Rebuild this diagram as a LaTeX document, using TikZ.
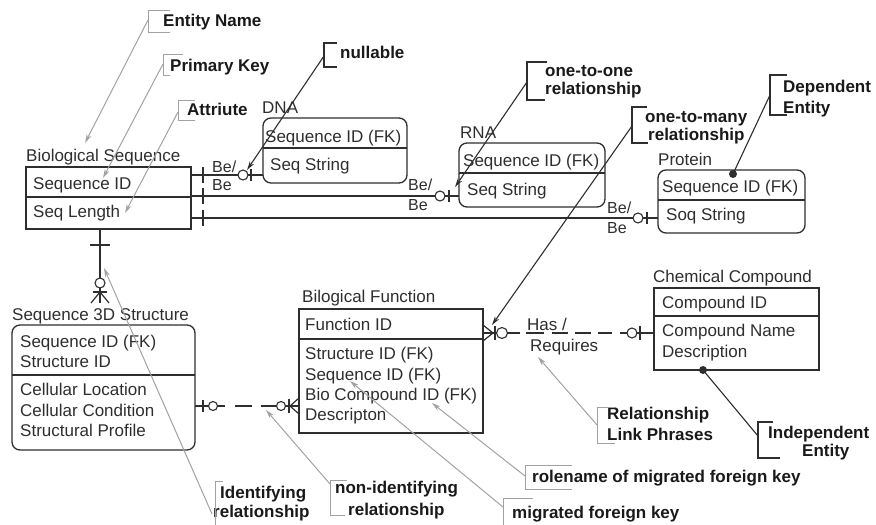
\documentclass[tikz,border=0pt]{standalone}
\usepackage{fontspec}
\setmainfont{Liberation Sans}
\usetikzlibrary{arrows.meta}
\definecolor{ink}{HTML}{2E2E2E}
\definecolor{callgray}{HTML}{A2A2A2}
\begin{document}
\begin{tikzpicture}[x=1pt,y=-1pt,
  ebox/.style={draw=ink, line width=1.3pt, inner sep=0pt, outer sep=0pt, anchor=north west},
  dep/.style={ebox, rounded corners=8pt},
  ebline/.style={draw=ink, line width=1.3pt},
  etext/.style={anchor=base west, inner sep=0pt, text=ink, font=\fontsize{17}{19}\selectfont},
  ctext/.style={anchor=base west, inner sep=0pt, text=black!90, font=\fontsize{17}{19}\selectfont\bfseries},
  rel/.style={draw=ink, line width=1.2pt},
  hoop/.style={draw=ink, line width=1.1pt, fill=white},
  gline/.style={draw=callgray, line width=1pt, -{Stealth[length=9pt,width=5pt]}},
  bline/.style={draw=ink, line width=1.1pt, -{Stealth[length=9pt,width=5pt]}},
  gbrk/.style={draw=callgray, line width=1pt},
  bbrk/.style={draw=ink, line width=1.6pt},
]
\useasboundingbox (0,0) rectangle (876,525);

% ---------- entity boxes ----------
\node[ebox, minimum width=165pt, minimum height=62pt]  (bs)   at (26,167)  {};
\node[dep,  minimum width=144pt, minimum height=65pt]  (dna)  at (263,118) {};
\node[dep,  minimum width=146pt, minimum height=64pt]  (rna)  at (459,143) {};
\node[dep,  minimum width=147pt, minimum height=63pt]  (prot) at (658,170) {};
\node[dep,  minimum width=183pt, minimum height=125pt] (s3d)  at (12,325)  {};
\node[ebox, minimum width=184pt, minimum height=124pt] (bf)   at (299,309) {};
\node[ebox, minimum width=165pt, minimum height=82pt]  (cc)   at (654,288) {};

% key / attribute dividers
\foreach \n/\y in {bs/197, dna/148, rna/173, prot/200, s3d/375, bf/339, cc/316}
  \draw[ebline] (\n.west |- 0,\y) -- (\n.east |- 0,\y);

% ---------- entity names and attributes ----------
\node[etext] (bsT)  at (26,161)  {Biological Sequence};
\node[etext] (bsA)  at (33,189)  {Sequence ID};
\node[etext] (bsB)  at (33,217)  {Seq Length};

\node[etext] (dnaT) at (262,113) {DNA};
\node[etext] (dnaA) at (265,142) {Sequence ID (FK)};
\node[etext] (dnaB) at (270,170) {Seq String};

\node[etext] (rnaT) at (460,138) {RNA};
\node[etext] (rnaA) at (463,166) {Sequence ID (FK)};
\node[etext] (rnaB) at (467,195) {Seq String};

\node[etext] (prT)  at (658,165) {Protein};
\node[etext] (prA)  at (662,192) {Sequence ID (FK)};
\node[etext] (prB)  at (666,220) {Soq String};

\node[etext] (s3T)  at (12,320)  {Sequence 3D Structure};
\node[etext] (s3A)  at (20,347)  {Sequence ID (FK)};
\node[etext] (s3B)  at (20,367)  {Structure ID};
\node[etext] (s3C)  at (20,395)  {Cellular Location};
\node[etext] (s3D)  at (20,416)  {Cellular Condition};
\node[etext] (s3E)  at (20,436)  {Structural Profile};

\node[etext] (bfT)  at (302,302) {Bilogical Function};
\node[etext] (bfA)  at (305,330) {Function ID};
\node[etext] (bfB)  at (305,359) {Structure ID (FK)};
\node[etext] (bfC)  at (305,380) {Sequence ID (FK)};
\node[etext] (bfD)  at (305,400) {Bio Compound ID (FK)};
\node[etext] (bfE)  at (305,420) {Descripton};

\node[etext] (ccT)  at (653,282) {Chemical Compound};
\node[etext] (ccA)  at (662,308) {Compound ID};
\node[etext] (ccB)  at (662,336) {Compound Name};
\node[etext] (ccC)  at (662,357) {Description};

% ---------- Biological Sequence to DNA / RNA / Protein ----------
\draw[rel] (bs.east |- 0,175) -- (dna.west |- 0,175);
\draw[rel] (bs.east |- 0,196) -- (rna.west |- 0,196);
\draw[rel] (bs.east |- 0,218) -- (prot.west |- 0,218);
\foreach \y in {175,196,218} \draw[rel] (203,\y-8) -- (203,\y+8);
\draw[rel] (251,169) -- (251,181);
\draw[hoop] (243,175) circle[radius=5pt];
\draw[rel] (449,190) -- (449,202);
\draw[hoop] (440,196) circle[radius=5pt];
\draw[rel] (647,212) -- (647,224);
\draw[hoop] (638,218) circle[radius=5pt];

\node[etext, font=\fontsize{16}{18}\selectfont] (be1a) at (212,172) {Be/};
\node[etext, font=\fontsize{16}{18}\selectfont] (be1b) at (212,190) {Be};
\node[etext, font=\fontsize{16}{18}\selectfont] (be2a) at (408,190) {Be/};
\node[etext, font=\fontsize{16}{18}\selectfont] (be2b) at (408,210) {Be};
\node[etext, font=\fontsize{16}{18}\selectfont] (be3a) at (607,213) {Be/};
\node[etext, font=\fontsize{16}{18}\selectfont] (be3b) at (607,233) {Be};

% ---------- identifying relationship to Sequence 3D Structure ----------
\coordinate (idTop) at (100,229);
\coordinate (idEnd) at (100,303);
\draw[rel] (idTop) -- (idEnd);
\draw[rel] (90,245) -- (110,245);
\draw[hoop] (100,283) circle[radius=5pt];
\draw[rel] (93,292) -- (107,292);
\draw[rel] (91,303) -- (100,292) -- (109,303);

% ---------- non-identifying relationship to Biological Function ----------
\draw[rel, dash pattern=on 30pt off 10pt on 17pt off 9pt on 50pt]
  (s3d.east |- 0,406) -- (bf.west |- 0,406);
\draw[rel] (203,400) -- (203,412);
\draw[hoop] (213,406) circle[radius=4.5pt];
\draw[hoop] (281,406) circle[radius=4.5pt];
\draw[rel] (289,399) -- (289,413);
\draw[rel] (299,398) -- (290,406) -- (299,414);

% ---------- Biological Function to Chemical Compound ----------
\draw[rel, dash pattern=on 37pt off 6pt on 18pt off 8pt on 16pt off 7pt on 16pt off 7pt on 14pt off 8pt on 40pt]
  (bf.east |- 0,333) -- (cc.west |- 0,333);
\draw[rel] (483,325) -- (493,333) -- (483,341);
\draw[rel] (495,326) -- (495,340);
\draw[hoop] (502,333) circle[radius=5.5pt];
\draw[hoop] (632,333) circle[radius=5pt];
\draw[rel] (640,326) -- (640,340);
\node[etext] (has) at (527,330) {Has /};
\node[etext] (req) at (530,351) {Requires};

% ---------- entity-type dots ----------
\fill[ink] (733,174) circle[radius=4pt] coordinate (depDot);
\fill[ink] (703,370) circle[radius=4pt] coordinate (indDot);

% ---------- gray annotations ----------
\node[ctext] (lEN) at (163,26) {Entity Name};
\draw[gbrk] (170,10) -- (148,10) -- (148,32) -- (170,32);
\coordinate (aEN) at (148,20); \coordinate (tEN) at (85,143);
\draw[gline] (aEN) -- (tEN);

\node[ctext] (lPK) at (170,71) {Primary Key};
\draw[gbrk] (183,54) -- (163,54) -- (163,75) -- (170,75);
\coordinate (aPK) at (163,64); \coordinate (tPK) at (103,178);
\draw[gline] (aPK) -- (tPK);

\node[ctext] (lAT) at (187,115) {Attriute};
\draw[gbrk] (195,100) -- (178,100) -- (178,120) -- (195,120);
\coordinate (aAT) at (178,112); \coordinate (tAT) at (125,213);
\draw[gline] (aAT) -- (tAT);

\node[ctext] (lRL1) at (607,419) {Relationship};
\node[ctext] (lRL2) at (607,440) {Link Phrases};
\draw[gbrk] (615,407) -- (597,407) -- (597,443) -- (615,443);
\coordinate (aRL) at (597,425); \coordinate (tRL) at (538,357);
\draw[gline] (aRL) -- (tRL);

\node[ctext] (lRN) at (532,482) {rolename of migrated foreign key};
\draw[gbrk] (572,465) -- (525,465) -- (525,489) -- (572,489);
\coordinate (aRN) at (525,476); \coordinate (tRN) at (432,403);
\draw[gline] (aRN) -- (tRN);

\node[ctext] (lMF) at (512,518) {migrated foreign key};
\draw[gbrk] (533,498) -- (503,498) -- (503,526);
\coordinate (aMF) at (503,507); \coordinate (tMF) at (350,381);
\draw[gline] (aMF) -- (tMF);

\node[ctext] (lID1) at (220,498) {Identifying};
\node[ctext] (lID2) at (213,517) {relationship};
\draw[gbrk] (223,481) -- (215,481) -- (215,526);
\coordinate (aID) at (212,514); \coordinate (tID) at (104,268);
\draw[gline] (aID) -- (tID);

\node[ctext] (lNI1) at (335,493) {non-identifying};
\node[ctext] (lNI2) at (348,515) {relationship};
\draw[gbrk] (347,480) -- (330,480) -- (330,515) -- (345,515);
\coordinate (aNI) at (330,484); \coordinate (tNI) at (266,410);
\draw[gline] (aNI) -- (tNI);

% ---------- black annotations ----------
\node[ctext] (lNU) at (340,58) {nullable};
\draw[bbrk] (337,43) -- (324,43) -- (324,67) -- (337,67);
\coordinate (aNU) at (324,56); \coordinate (tNU) at (247,170);
\draw[bline] (aNU) -- (tNU);

\node[ctext] (lOO1) at (545,76) {one-to-one};
\node[ctext] (lOO2) at (545,94) {relationship};
\draw[bbrk] (547,62) -- (527,62) -- (527,100) -- (545,100);
\coordinate (aOO) at (527,82); \coordinate (tOO) at (455,187);
\draw[bline] (aOO) -- (tOO);

\node[ctext] (lOM1) at (645,122) {one-to-many};
\node[ctext] (lOM2) at (648,140) {relationship};
\draw[bbrk] (647,107) -- (632,107) -- (632,143) -- (648,143);
\coordinate (aOM) at (632,126); \coordinate (tOM) at (492,325);
\draw[bline] (aOM) -- (tOM);

\node[ctext] (lDE1) at (783,92) {Dependent};
\node[ctext] (lDE2) at (783,113) {Entity};
\draw[bbrk] (787,75) -- (770,75) -- (770,115) -- (787,115);
\coordinate (aDE) at (770,95);
\draw[draw=ink, line width=1.1pt] (depDot) -- (aDE);

\node[ctext] (lIE1) at (768,438) {Independent};
\node[ctext] (lIE2) at (802,456) {Entity};
\draw[bbrk] (773,422) -- (758,422) -- (758,458) -- (780,458);
\coordinate (aIE) at (758,436);
\draw[draw=ink, line width=1.1pt] (indDot) -- (aIE);

\end{tikzpicture}
\end{document}
